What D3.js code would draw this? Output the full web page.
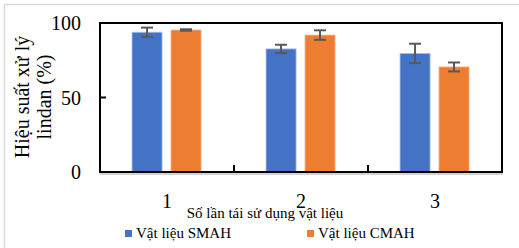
<!DOCTYPE html>
<html>
<head>
<meta charset="utf-8">
<script src="https://cdn.jsdelivr.net/npm/d3@7"></script>
<style>
	body { margin: 0; background: #fff; }
	svg text { font-family: "Liberation Serif", "Times New Roman", serif; fill: #000; }
</style>
</head>
<body>
<svg id="svgarea" width="519" height="248"></svg>
<script>
const categories	= ['1', '2', '3'];
const seriesNames	= ['Vật liệu SMAH', 'Vật liệu CMAH'];
const smahValues	= [93.8, 82.6, 79.6];
const smahErrors	= [3.1, 2.8, 6.5];
const cmahValues	= [95.3, 91.9, 70.5];
const cmahErrors	= [0.5, 3.2, 3.0];
const yTicks		= [0, 50, 100];
const colors		= ['#4472C4', '#ED7D31'];
const edges			= ['#A9BDE6', '#F5B088'];

var svg = d3.select('#svgarea');
var frame = {left: 100, top: 23, right: 502, bottom: 172};

// outer chart border (only top and left visible)
svg.append('line').attr('x1', 4.5).attr('y1', 4.5).attr('x2', 519).attr('y2', 4.5)
	.attr('stroke', '#d9d9d9').attr('stroke-width', 1.5);
svg.append('line').attr('x1', 4.5).attr('y1', 4.5).attr('x2', 4.5).attr('y2', 248)
	.attr('stroke', '#d9d9d9').attr('stroke-width', 1.5);

var x = d3.scaleBand().domain(categories).range([frame.left, frame.right]);
var inner = d3.scaleBand().domain([0, 1]).range([x.bandwidth() * 0.239, x.bandwidth() * 0.754]).paddingInner(0.23);
var y = d3.scaleLinear().domain([0, 100]).range([frame.bottom, frame.top]);

var series = [
	{values: smahValues, errors: smahErrors},
	{values: cmahValues, errors: cmahErrors}
];

// bars
series.forEach(function(s, si){
	var g = svg.append('g');
	g.selectAll('rect').data(categories).enter().append('rect')
		.attr('x', function(c){ return x(c) + inner(si); })
		.attr('y', function(c, i){ return y(s.values[i]); })
		.attr('width', inner.bandwidth())
		.attr('height', function(c, i){ return y(0) - y(s.values[i]); })
		.attr('fill', colors[si])
		.attr('stroke', edges[si])
		.attr('stroke-width', 0.8);
});

// error bars
series.forEach(function(s, si){
	categories.forEach(function(c, i){
		var cx = x(c) + inner(si) + inner.bandwidth() / 2;
		var lo = y(s.values[i] - s.errors[i]);
		var hi = y(s.values[i] + s.errors[i]);
		var g = svg.append('g').attr('stroke', '#595959').attr('stroke-width', 2);
		g.append('line').attr('x1', cx).attr('x2', cx).attr('y1', lo).attr('y2', hi);
		g.append('line').attr('x1', cx - 6).attr('x2', cx + 6).attr('y1', lo).attr('y2', lo);
		g.append('line').attr('x1', cx - 6).attr('x2', cx + 6).attr('y1', hi).attr('y2', hi);
	});
});

// frame shadow and frame
svg.append('line').attr('x1', frame.left).attr('x2', frame.right + 1).attr('y1', frame.bottom + 2).attr('y2', frame.bottom + 2)
	.attr('stroke', '#a6a6a6').attr('stroke-width', 1);
svg.append('rect').attr('x', frame.left).attr('y', frame.top)
	.attr('width', frame.right - frame.left).attr('height', frame.bottom - frame.top)
	.attr('fill', 'none').attr('stroke', '#000').attr('stroke-width', 2);

// y axis ticks and labels
yTicks.forEach(function(t){
	svg.append('line').attr('x1', frame.left).attr('x2', frame.left + 6).attr('y1', y(t)).attr('y2', y(t))
		.attr('stroke', '#000').attr('stroke-width', 2);
	svg.append('text').attr('x', 81).attr('y', y(t)).attr('dy', '0.35em')
		.attr('text-anchor', 'end').attr('font-size', 20).text(t);
});

// x axis ticks between categories
categories.slice(1).forEach(function(c){
	svg.append('line').attr('x1', x(c)).attr('x2', x(c)).attr('y1', frame.bottom).attr('y2', frame.bottom - 7)
		.attr('stroke', '#000').attr('stroke-width', 2);
});
categories.forEach(function(c){
	svg.append('text').attr('x', x(c) + x.bandwidth() / 2).attr('y', 208)
		.attr('text-anchor', 'middle').attr('font-size', 20).text(c);
});

// axis titles
svg.append('text').attr('x', 265).attr('y', 218).attr('text-anchor', 'middle')
	.attr('font-size', 15).text('Số lần tái sử dụng vật liệu');
var yt = svg.append('g').attr('transform', 'translate(0,97) rotate(-90)');
yt.append('text').attr('x', 0).attr('y', 29).attr('text-anchor', 'middle').attr('font-size', 20).text('Hiệu suất xử lý');
yt.append('text').attr('x', 0).attr('y', 51).attr('text-anchor', 'middle').attr('font-size', 20).text('lindan (%)');

// legend
var legendX = [125, 307];
seriesNames.forEach(function(name, i){
	svg.append('rect').attr('x', legendX[i]).attr('y', 230).attr('width', 7).attr('height', 7).attr('fill', colors[i]);
	svg.append('text').attr('x', legendX[i] + 11).attr('y', 238).attr('font-size', 15).text(name);
});
</script>
</body>
</html>
